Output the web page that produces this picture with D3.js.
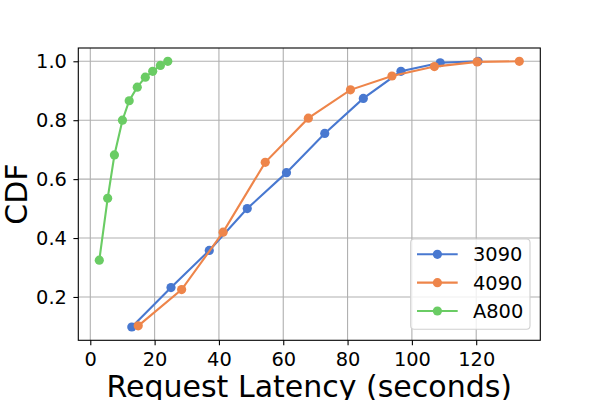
<!DOCTYPE html>
<html><head><meta charset="utf-8">
<script src="https://cdn.jsdelivr.net/npm/d3@7"></script>
<style>body{margin:0;background:#fff}svg{display:block}text{font-family:"DejaVu Sans",sans-serif}</style>
</head><body>
<svg id="c" width="600" height="400"></svg>
<script>
const seriesNames = ["3090", "4090", "A800"];
const colors = ["#4878d0", "#ee854a", "#6acc64"];
const lat3090 = [12.9, 25.1, 37.0, 48.8, 61.0, 72.9, 84.9, 96.6, 108.8, 120.6];
const cdf3090 = [0.098, 0.232, 0.358, 0.5, 0.622, 0.755, 0.874, 0.966, 0.995, 1.0];
const lat4090 = [14.9, 28.4, 41.3, 54.4, 67.8, 80.9, 93.8, 107.0, 120.3, 133.4];
const cdf4090 = [0.102, 0.225, 0.42, 0.657, 0.807, 0.903, 0.95, 0.982, 0.998, 1.0];
const latA800 = [2.8, 5.4, 7.5, 10.0, 12.1, 14.6, 17.1, 19.4, 21.8, 24.1];
const cdfA800 = [0.325, 0.535, 0.682, 0.8, 0.866, 0.912, 0.946, 0.966, 0.986, 1.0];
const xTicks = [0, 20, 40, 60, 80, 100, 120];
const yTicks = [0.2, 0.4, 0.6, 0.8, 1.0];
const xLabel = "Request Latency (seconds)";
const yLabel = "CDF";

const series = [
  {name: seriesNames[0], x: lat3090, y: cdf3090, color: colors[0]},
  {name: seriesNames[1], x: lat4090, y: cdf4090, color: colors[1]},
  {name: seriesNames[2], x: latA800, y: cdfA800, color: colors[2]}
];

const L = 78.3, R = 540.3, T = 48, B = 340.3;
const svg = d3.select("#c");
const allX = series.flatMap(s => s.x), allY = series.flatMap(s => s.y);
const xmin = d3.min(allX), xmax = d3.max(allX), ymin = d3.min(allY), ymax = d3.max(allY);
const mx = (xmax - xmin) * 0.05, my = (ymax - ymin) * 0.05;
const x = d3.scaleLinear().domain([xmin - mx, xmax + mx]).range([L, R]);
const y = d3.scaleLinear().domain([ymin - my, ymax + my]).range([B, T]);

const fs = 19.4;
// grid
const grid = svg.append("g");
grid.selectAll(".gx").data(xTicks).join("line")
  .attr("x1", d => x(d)).attr("x2", d => x(d)).attr("y1", T).attr("y2", B)
  .attr("stroke", "#b0b0b0").attr("stroke-width", 1.1);
grid.selectAll(".gy").data(yTicks).join("line")
  .attr("y1", d => y(d)).attr("y2", d => y(d)).attr("x1", L).attr("x2", R)
  .attr("stroke", "#b0b0b0").attr("stroke-width", 1.1);

// axes
const xAxis = svg.append("g").attr("transform", `translate(0,${B})`)
  .call(d3.axisBottom(x).tickValues(xTicks).tickFormat(d3.format("d")).tickSize(4.9).tickPadding(6.8));
const yAxis = svg.append("g").attr("transform", `translate(${L},0)`)
  .call(d3.axisLeft(y).tickValues(yTicks).tickFormat(d3.format(".1f")).tickSize(4.9).tickPadding(6.5));
[xAxis, yAxis].forEach(a => {
  a.select(".domain").remove();
  a.selectAll("line").attr("stroke", "#000").attr("stroke-width", 1.1);
  a.selectAll("text").attr("font-size", fs).attr("font-family", "DejaVu Sans").attr("fill", "#000");
});

// lines & points
const line = d3.line().x(d => x(d[0])).y(d => y(d[1]));
series.forEach(s => {
  const pts = s.x.map((v, i) => [v, s.y[i]]);
  svg.append("path").datum(pts).attr("d", line).attr("fill", "none")
    .attr("stroke", s.color).attr("stroke-width", 2.1);
  svg.append("g").selectAll("circle").data(pts).join("circle")
    .attr("cx", d => x(d[0])).attr("cy", d => y(d[1])).attr("r", 4.6).attr("fill", s.color);
});

// spines
svg.append("rect").attr("x", L).attr("y", T).attr("width", R - L).attr("height", B - T)
  .attr("fill", "none").attr("stroke", "#000").attr("stroke-width", 1.1);

// labels
svg.append("text").attr("x", (L + R) / 2).attr("y", 397).attr("text-anchor", "middle")
  .attr("font-size", 30).text(xLabel);
svg.append("text").attr("transform", `translate(27,${(T + B) / 2}) rotate(-90)`).attr("text-anchor", "middle")
  .attr("font-size", 30).text(yLabel);

// legend
const lg = svg.append("g");
lg.append("rect").attr("x", 410.7).attr("y", 239).attr("width", 119.3).attr("height", 90.3).attr("rx", 3.5)
  .attr("fill", "#fff").attr("fill-opacity", 0.8).attr("stroke", "#d0d0d0").attr("stroke-width", 1.1);
series.forEach((s, i) => {
  const cy = 254.3 + i * 28.35;
  lg.append("line").attr("x1", 417).attr("x2", 457.7).attr("y1", cy).attr("y2", cy)
    .attr("stroke", s.color).attr("stroke-width", 2.1);
  lg.append("circle").attr("cx", 437.4).attr("cy", cy).attr("r", 4.6).attr("fill", s.color);
  lg.append("text").attr("x", 473).attr("y", cy + 7).attr("font-size", fs).text(s.name);
});
</script>
</body></html>
